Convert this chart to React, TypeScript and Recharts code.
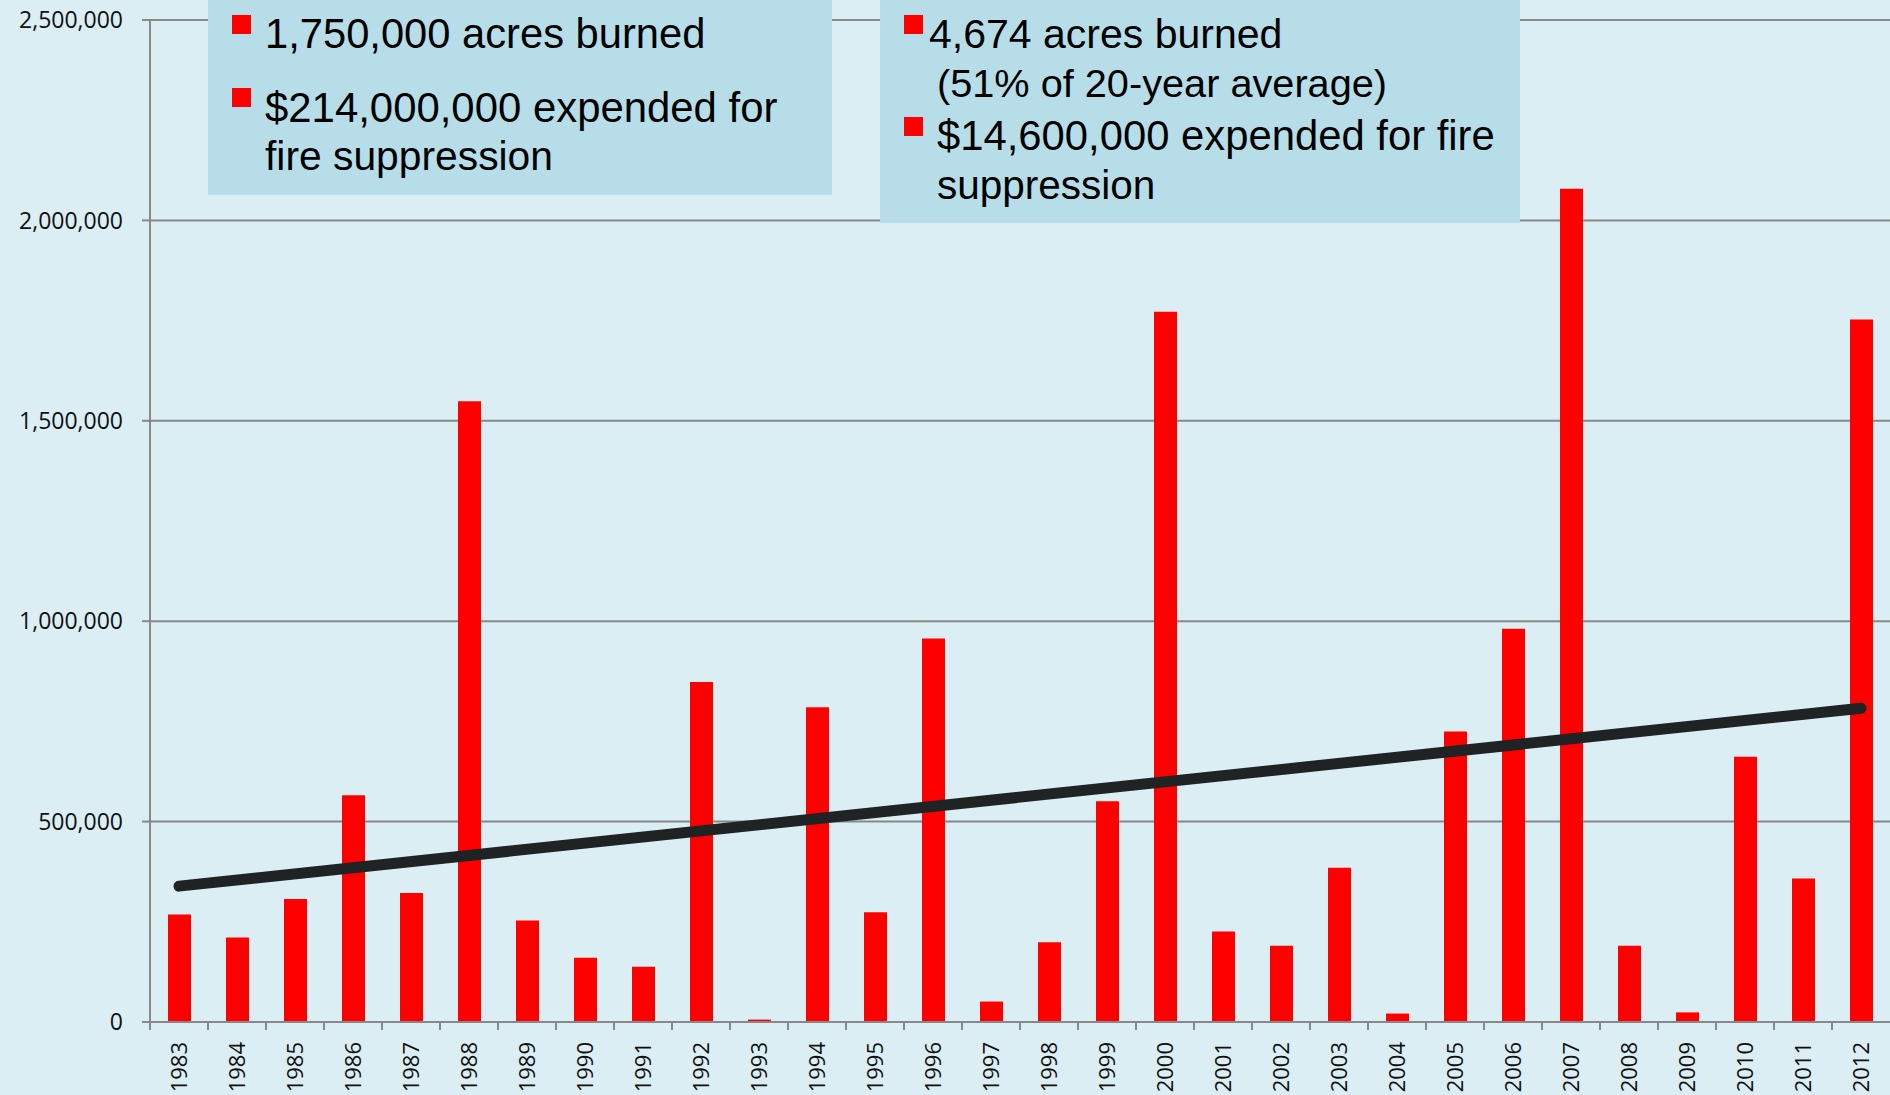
import { ComposedChart, Bar, Line, XAxis, YAxis, CartesianGrid } from 'recharts';

const years = [
  '1983', '1984', '1985', '1986', '1987', '1988', '1989', '1990', '1991', '1992',
  '1993', '1994', '1995', '1996', '1997', '1998', '1999', '2000', '2001', '2002',
  '2003', '2004', '2005', '2006', '2007', '2008', '2009', '2010', '2011', '2012',
];

const acresBurned = [
  268000, 211000, 307000, 566000, 322000, 1549000, 253000, 160000, 138000, 848000,
  6000, 785000, 274000, 957000, 51000, 199000, 551000, 1772000, 226000, 190000,
  385000, 21000, 725000, 981000, 2079000, 190000, 24000, 662000, 358000, 1753000,
];

// linear trend, only its two end points are given (line joins them)
const trendLine = [
  339000, null, null, null, null, null, null, null, null, null,
  null, null, null, null, null, null, null, null, null, null,
  null, null, null, null, null, null, null, null, null, 783000,
];

const yTicks = [0, 500000, 1000000, 1500000, 2000000, 2500000];

const leftBoxLines = ['1,750,000 acres burned', '$214,000,000 expended for', 'fire suppression'];
const rightBoxLines = [
  '4,674 acres burned',
  '(51% of 20-year average)',
  '$14,600,000 expended for fire',
  'suppression',
];

const W = 1890;
const H = 1095;
const BG = '#DAEEF3';
const BOX = '#B7DEE8';
const GRID = '#888888';
const RED = '#FF0000';

function YearTick(props: any) {
  const { x, y, payload, width, visibleTicksCount } = props;
  // tick marks sit on the category boundaries, not under the bars
  const half = width / visibleTicksCount / 2;
  const ty = y + 20;
  return (
    <g>
      <line x1={x - half} x2={x - half} y1={y} y2={y + 8} stroke={GRID} strokeWidth={2} />
      <text
        x={x}
        y={ty}
        transform={`rotate(-90 ${x} ${ty})`}
        textAnchor="end"
        dy="0.36em"
        fontFamily="Open Sans"
        fontSize={22}
        fill="#111"
      >
        {payload.value}
      </text>
    </g>
  );
}

const boxFont = '"Liberation Sans", Arial, sans-serif';

function BoxLine({ x, y, size, children }: { x: number; y: number; size: number; children: string }) {
  return (
    <text x={x} y={y} fontFamily={boxFont} fontSize={size} fill="#000">
      {children}
    </text>
  );
}

export default function App() {
  const data = years.map((year, i) => ({
    year,
    acres: acresBurned[i],
    trend: trendLine[i],
  }));

  return (
    <div style={{ position: 'relative', width: W, height: H, background: BG, overflow: 'hidden' }}>
      <style>{`html,body{margin:0;background:${BG};}`}</style>
      <ComposedChart
        width={W}
        height={H}
        data={data}
        margin={{ top: 20, right: 0, bottom: 0, left: 0 }}
      >
        <CartesianGrid vertical={false} stroke={GRID} strokeWidth={2} />
        <XAxis
          dataKey="year"
          height={73}
          interval={0}
          tickLine={false}
          tickSize={0}
          tickMargin={0}
          axisLine={{ stroke: GRID, strokeWidth: 2 }}
          tick={<YearTick />}
        />
        <YAxis
          width={150}
          domain={[0, 2500000]}
          ticks={yTicks}
          interval={0}
          tickSize={8}
          tickMargin={19}
          axisLine={{ stroke: GRID, strokeWidth: 2 }}
          tickLine={{ stroke: GRID, strokeWidth: 2 }}
          tick={{ fontFamily: 'Open Sans', fontSize: 23, fill: '#111' }}
          tickFormatter={(v: number) => v.toLocaleString('en-US')}
        />
        <Bar dataKey="acres" fill={RED} barSize={23} isAnimationActive={false} />
        <Line
          dataKey="trend"
          type="linear"
          connectNulls
          stroke="#1f2324"
          strokeWidth={11}
          strokeLinecap="round"
          dot={false}
          activeDot={false}
          isAnimationActive={false}
        />
      </ComposedChart>

      <svg
        width={W}
        height={H}
        style={{ position: 'absolute', left: 0, top: 0, pointerEvents: 'none' }}
      >
        <rect x={208} y={0} width={624} height={195} fill={BOX} />
        <rect x={232} y={15} width={19} height={19} fill={RED} />
        <rect x={232} y={88} width={19} height={19} fill={RED} />
        <BoxLine x={265} y={48} size={41.7}>{leftBoxLines[0]}</BoxLine>
        <BoxLine x={265} y={122} size={41.9}>{leftBoxLines[1]}</BoxLine>
        <BoxLine x={265} y={170} size={40.8}>{leftBoxLines[2]}</BoxLine>

        <rect x={880} y={0} width={640} height={223} fill={BOX} />
        <rect x={904} y={15} width={19} height={19} fill={RED} />
        <rect x={904} y={117} width={19} height={19} fill={RED} />
        <BoxLine x={929} y={48} size={41}>{rightBoxLines[0]}</BoxLine>
        <BoxLine x={937} y={97} size={39.7}>{rightBoxLines[1]}</BoxLine>
        <BoxLine x={937} y={150} size={41.8}>{rightBoxLines[2]}</BoxLine>
        <BoxLine x={937} y={199} size={40.5}>{rightBoxLines[3]}</BoxLine>
      </svg>
    </div>
  );
}
